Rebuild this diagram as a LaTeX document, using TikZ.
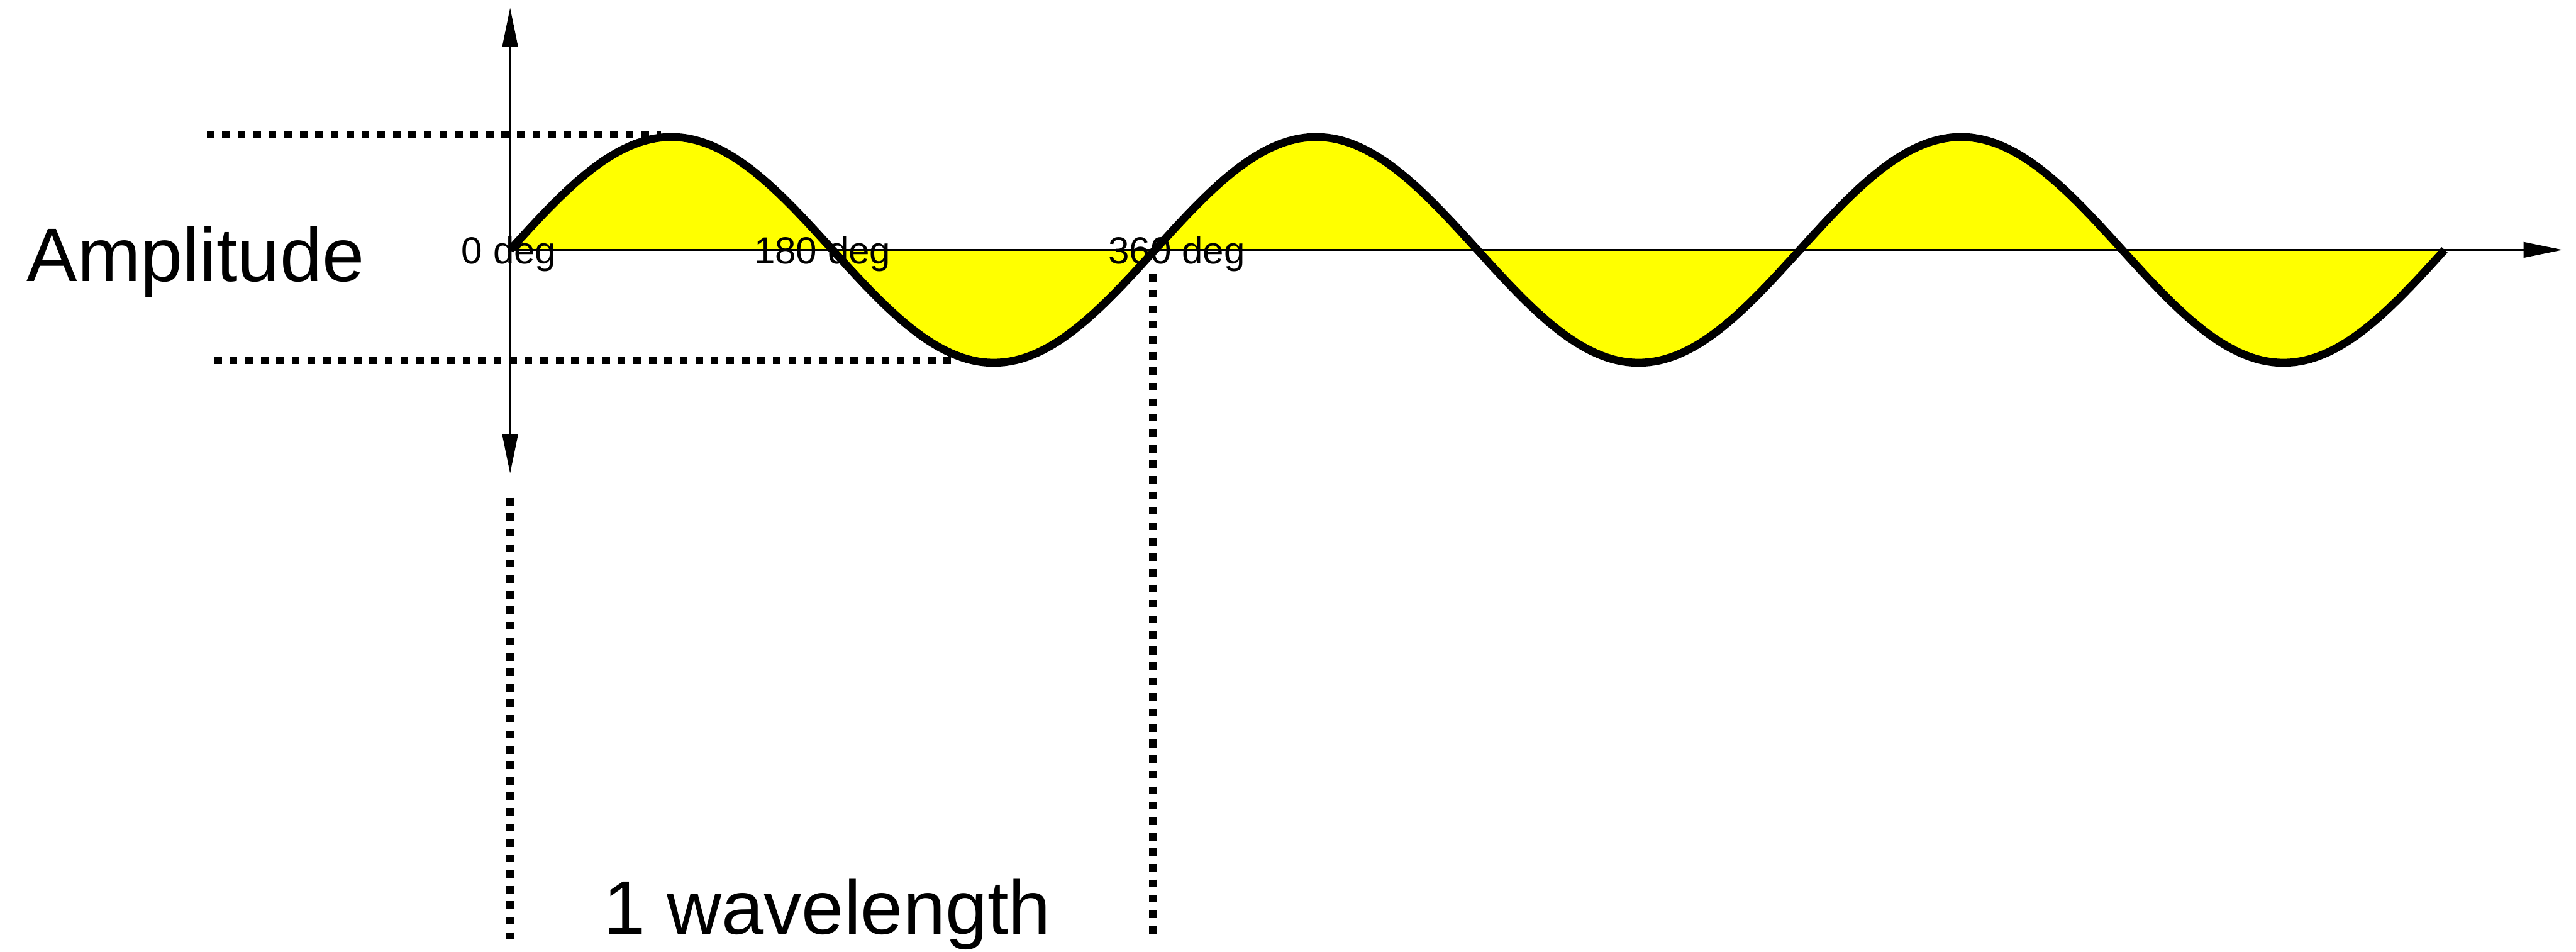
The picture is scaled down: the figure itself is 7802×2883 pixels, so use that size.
\documentclass[tikz,border=0pt]{standalone}
\usepackage{fontspec}
\setmainfont{Liberation Sans}
\usetikzlibrary{arrows.meta}
\definecolor{waveyellow}{RGB}{255,255,0}
\begin{document}
\begin{tikzpicture}[x=0.1pt,y=-0.1pt,
  axisline/.style={line width=0.5pt, black},
  tipend/.style={-{Triangle[length=11.8pt,width=4.7pt]}},
  tipboth/.style={{Triangle[length=11.8pt,width=4.7pt]}-{Triangle[length=11.8pt,width=4.7pt]}},
  guide/.style={line width=2.3pt, dash pattern=on 2.3pt off 2.4pt},
  wavepen/.style={line width=2.4pt, line join=round},
  smalllabel/.style={font=\fontsize{11.45}{13}\selectfont, inner sep=0pt, anchor=base west},
  biglabel/.style={font=\fontsize{23}{27}\selectfont, inner sep=0pt, anchor=base west}]
\useasboundingbox (0,0) rectangle (7802,2883);

% coordinates
\coordinate (origin) at (1545,757);
\coordinate (vtop) at (1545,24);
\coordinate (vbot) at (1545,1434);
\coordinate (hend) at (7761,757);
\coordinate (topA) at (626,408);
\coordinate (topB) at (2001,408);
\coordinate (botA) at (649,1092);
\coordinate (botB) at (2885,1092);
\coordinate (lvA) at (1544,1508);
\coordinate (lvB) at (1544,2845);
\coordinate (rvA) at (3492,831);
\coordinate (rvB) at (3492,2835);

% yellow fill between wave and axis
\fill[waveyellow] plot[domain=0:1080, samples=361] ({1545+\x*5.425}, {757-342*sin(\x)}) -- cycle;

% axes
\draw[axisline, tipend] (origin) -- (hend);
\draw[axisline, tipboth] (vbot) -- (vtop);

% labels
\node[smalllabel] (l0) at (1396,799) {0 deg};
\node[smalllabel] (l180) at (2282,799) {180 deg};
\node[smalllabel] (l360) at (3355,799) {360 deg};
\node[biglabel] (amp) at (79,852) {Amplitude};
\node[biglabel] (wl) at (1826,2829) {1 wavelength};

% wave
\draw[wavepen] plot[domain=0:1080, samples=361] ({1545+\x*5.425}, {757-342*sin(\x)});

% dotted guides
\draw[guide] (topA) -- (topB);
\draw[guide] (botA) -- (botB);
\draw[guide] (lvA) -- (lvB);
\draw[guide] (rvA) -- (rvB);
\end{tikzpicture}
\end{document}
